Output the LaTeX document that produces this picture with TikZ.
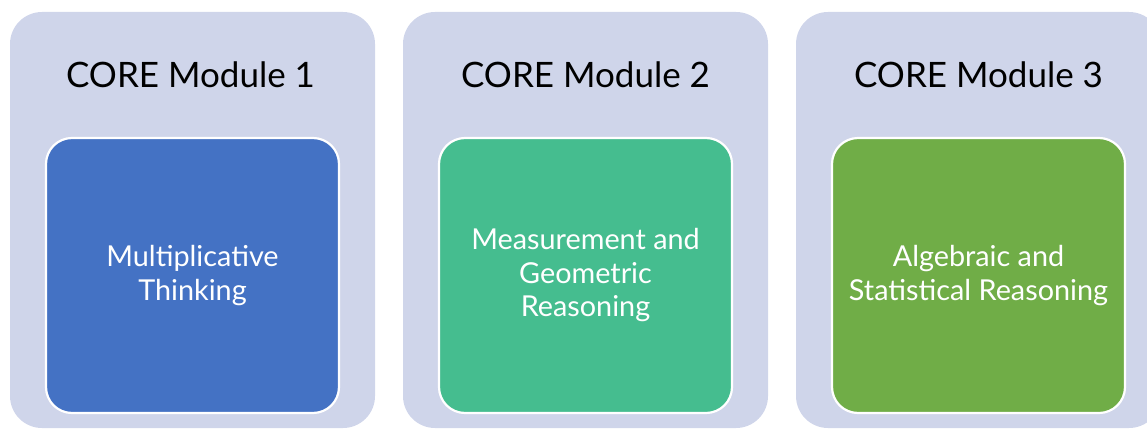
\documentclass[tikz,border=0pt]{standalone}
\usepackage{fontspec}
\setmainfont{Lato}
\begin{document}
\begin{tikzpicture}[x=1pt,y=-1pt,
  outerbox/.style={fill=panelbg, draw=none, rounded corners=32pt},
  innerbox/.style={draw=white, line width=2.2pt, rounded corners=26pt},
  title/.style={font=\fontsize{35}{40}\selectfont, text=black},
  body/.style={font=\fontsize{28.8}{33.5}\selectfont, text=white, align=center}]
\definecolor{panelbg}{HTML}{CFD5EA}
\definecolor{mblue}{HTML}{4472C4}
\definecolor{mteal}{HTML}{45BD8F}
\definecolor{mgreen}{HTML}{70AD47}
\useasboundingbox (0,0) rectangle (1147,428);
\begin{scope}
\clip (0,0) rectangle (1147,428);
% three module panels
\fill[outerbox] (10,12) rectangle (375,428);
\fill[outerbox] (403,12) rectangle (768,428);
\fill[outerbox] (796,12) rectangle (1161,428);
% coloured topic cards
\node[innerbox, fill=mblue, minimum width=293pt, minimum height=275pt] (c1) at (192.5,275.5) {};
\node[innerbox, fill=mteal, minimum width=293pt, minimum height=275pt] (c2) at (585.5,275.5) {};
\node[innerbox, fill=mgreen, minimum width=293pt, minimum height=275pt] (c3) at (978.5,275.5) {};
\end{scope}
% panel headings
\node[title] (t1) at (190.5,75) {CORE Module 1};
\node[title] (t2) at (585.5,75) {CORE Module 2};
\node[title] (t3) at (978.5,75) {CORE Module 3};
% card texts
\node[body] (b1) at (c1.center) {Multiplicative\\Thinking};
\node[body] (b2) at (c2.center) {Measurement and\\Geometric\\Reasoning};
\node[body] (b3) at (c3.center) {Algebraic and\\Statistical Reasoning};
\end{tikzpicture}
\end{document}
